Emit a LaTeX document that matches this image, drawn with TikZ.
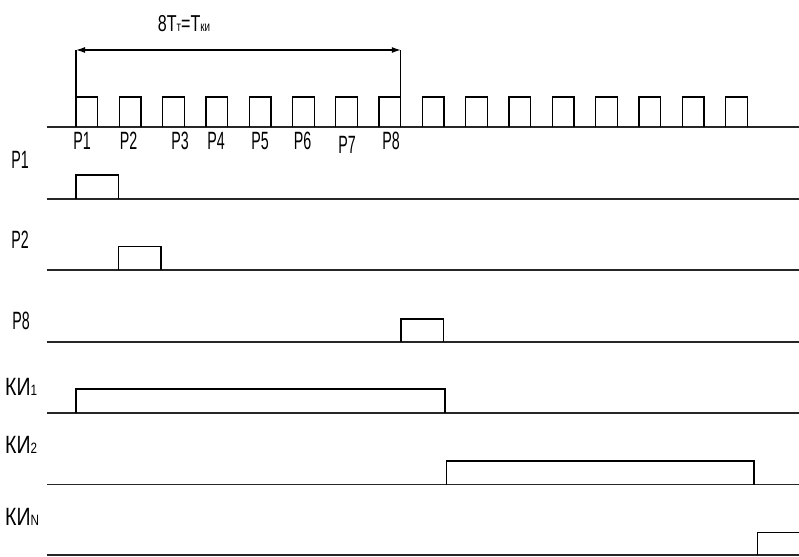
\documentclass[tikz,border=0pt]{standalone}
\usepackage{fontspec}
\newfontfamily\labP[FakeStretch=0.57]{Liberation Sans}
\newfontfamily\labK[FakeStretch=0.78]{Liberation Sans}
\newfontfamily\labT[FakeStretch=0.7]{Liberation Sans}
\usetikzlibrary{arrows.meta}
\tikzset{
  base/.style={line width=1.7pt, black!85},
  pulse/.style={line width=1.3pt, black},
  plab/.style={inner sep=0pt, font=\labP\fontsize{25}{25}\selectfont},
  klab/.style={inner sep=0pt, anchor=base west, font=\labK\fontsize{25}{25}\selectfont},
  dim/.style={line width=1.2pt, black, {Latex[length=9pt,width=6pt]}-{Latex[length=9pt,width=6pt]}}
}
\newcommand{\subs}[1]{{\fontsize{15}{15}\selectfont #1}}
\begin{document}
\begin{tikzpicture}[x=1pt,y=-1pt]
\useasboundingbox (0,0) rectangle (799,556);
% clock line
\draw[base] (47,127) -- (799,127);
\foreach \k in {0,...,15}{
  \pgfmathsetmacro{\xa}{76+43.3*\k}
  \pgfmathsetmacro{\xb}{\xa+21.7}
  \draw[pulse] (\xa,127) -- (\xa,97) -- (\xb,97) -- (\xb,127);
}
% dimension
\coordinate (dl) at (76,50);
\coordinate (dr) at (400.8,50);
\coordinate (dlb) at (76,97);
\coordinate (drb) at (400.8,97);
\draw[pulse] (dlb) -- (dl);
\draw[pulse] (drb) -- (dr);
\draw[dim] (dl) -- (dr);
\node[inner sep=0pt, anchor=base, font=\labT\fontsize{23}{23}\selectfont] (tl) at (184,31.5)
  {8T{\fontsize{14}{14}\selectfont т}=T{\fontsize{14}{14}\selectfont ки}};
% clock labels
\node[plab] (c1) at (82,141) {P1};
\node[plab] (c2) at (128.5,141) {P2};
\node[plab] (c3) at (180,141) {P3};
\node[plab] (c4) at (216,141) {P4};
\node[plab] (c5) at (260,141) {P5};
\node[plab] (c6) at (302.5,141) {P6};
\node[plab] (c7) at (347,145) {P7};
\node[plab] (c8) at (391,141) {P8};
% signal P1
\node[plab] (s1) at (20,160) {P1};
\draw[base] (47,199) -- (799,199);
\draw[pulse] (76,199) -- (76,175) -- (118.7,175) -- (118.7,199);
% signal P2
\node[plab] (s2) at (20,240) {P2};
\draw[base] (47,270) -- (799,270);
\draw[pulse] (118.7,270) -- (118.7,246.5) -- (161,246.5) -- (161,270);
% signal P8
\node[plab] (s8) at (21,321) {P8};
\draw[base] (47,341.7) -- (799,341.7);
\draw[pulse] (401,341.7) -- (401,319) -- (443.3,319) -- (443.3,341.7);
% KI1
\node[klab] (k1) at (5,395.5) {КИ\subs{1}};
\draw[base] (47,413) -- (799,413);
\draw[pulse] (76,413) -- (76,389) -- (445,389) -- (445,413);
% KI2
\node[klab] (k2) at (5,453) {КИ\subs{2}};
\draw[base] (47,484.5) -- (799,484.5);
\draw[pulse] (446.7,484.5) -- (446.7,461) -- (754,461) -- (754,484.5);
% KIN
\node[klab] (kn) at (5,525) {КИ\subs{N}};
\draw[base] (47,555) -- (799,555);
\draw[pulse] (757.7,555) -- (757.7,532.7) -- (800,532.7);
\end{tikzpicture}
\end{document}
